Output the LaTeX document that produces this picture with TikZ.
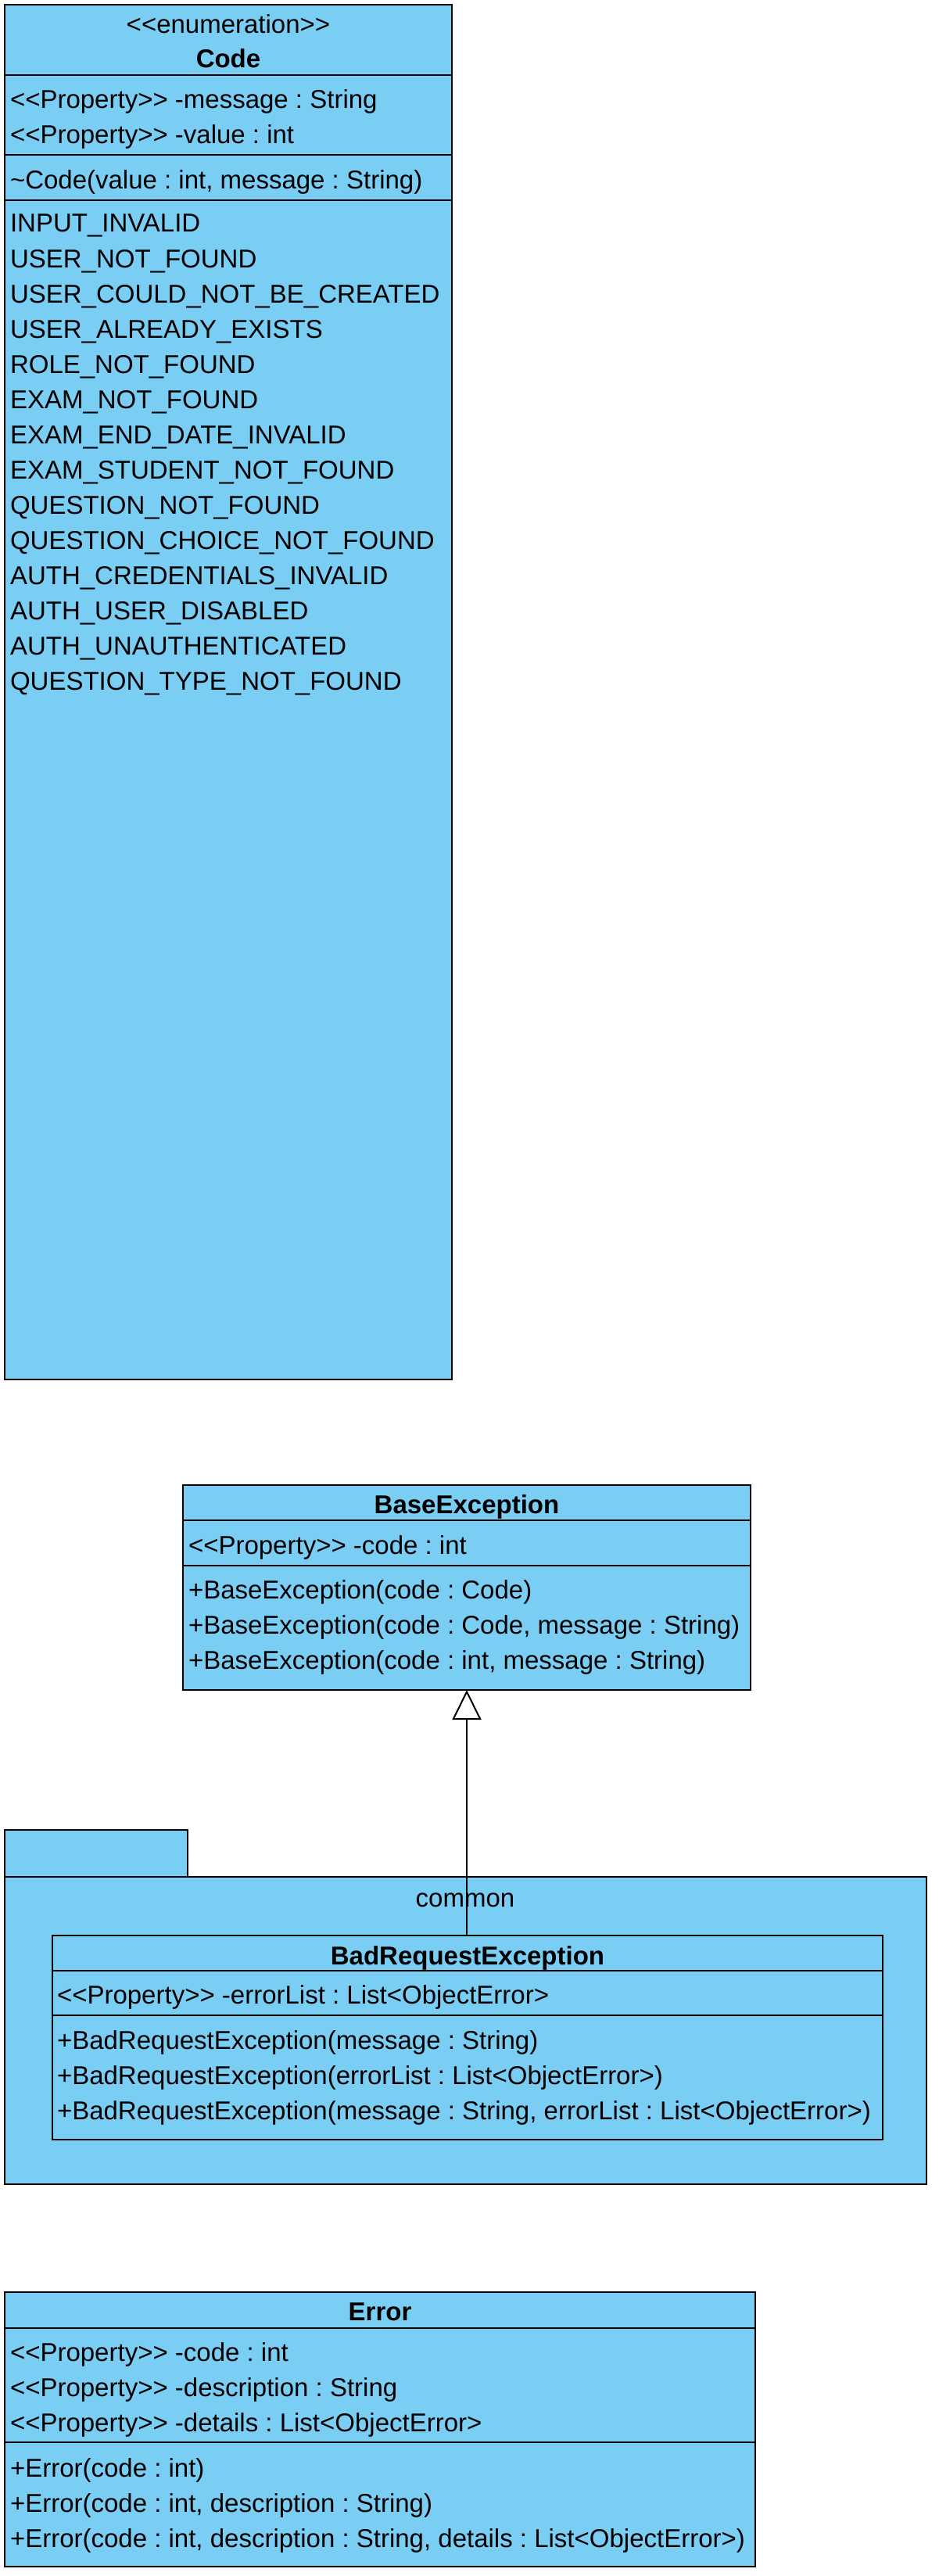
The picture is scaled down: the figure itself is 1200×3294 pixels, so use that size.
\documentclass[tikz,border=0pt]{standalone}
\usepackage{fontspec}
\setmainfont{Liberation Sans}[Ligatures=TeXOff]
\usetikzlibrary{arrows.meta}
\definecolor{umlblue}{RGB}{122,206,244}
\frenchspacing
\begin{document}
\begin{tikzpicture}[x=1pt,y=-1pt,
  every node/.style={font=\fontsize{33}{40}\selectfont\frenchspacing, inner sep=0pt, outer sep=0pt},
  box/.style={draw=black, fill=umlblue, line width=2.6pt, anchor=north west},
  sep/.style={draw=black, line width=2.6pt},
  txt/.style={anchor=base west},
  ttl/.style={anchor=base, font=\fontsize{33}{40}\selectfont\bfseries},
  stereo/.style={anchor=base},
  conn/.style={draw=black, line width=2pt}
]
\useasboundingbox (0,0) rectangle (1200,3294);

% ---------- Code enumeration ----------
\node[box, minimum width=572pt, minimum height=1758pt] (code) at (6,6) {};
\draw[sep] (6,96) -- (578,96);
\draw[sep] (6,198) -- (578,198);
\draw[sep] (6,256) -- (578,256);
\node[stereo] (codest) at (292,43) {<{}<enumeration>{}>};
\node[ttl] (codet) at (292,87) {Code};
\node[txt] (codea1) at (13,139) {<{}<Property>{}> -message : String};
\node[txt] (codea2) at (13,184) {<{}<Property>{}> -value : int};
\node[txt] (codem1) at (13,242) {\textasciitilde Code(value : int, message : String)};
\node[txt] (lit1) at (13,297) {INPUT\_INVALID};
\node[txt] (lit2) at (13,342) {USER\_NOT\_FOUND};
\node[txt] (lit3) at (13,387) {USER\_COULD\_NOT\_BE\_CREATED};
\node[txt] (lit4) at (13,432) {USER\_ALREADY\_EXISTS};
\node[txt] (lit5) at (13,477) {ROLE\_NOT\_FOUND};
\node[txt] (lit6) at (13,522) {EXAM\_NOT\_FOUND};
\node[txt] (lit7) at (13,567) {EXAM\_END\_DATE\_INVALID};
\node[txt] (lit8) at (13,612) {EXAM\_STUDENT\_NOT\_FOUND};
\node[txt] (lit9) at (13,657) {QUESTION\_NOT\_FOUND};
\node[txt] (lit10) at (13,702) {QUESTION\_CHOICE\_NOT\_FOUND};
\node[txt] (lit11) at (13,747) {AUTH\_CREDENTIALS\_INVALID};
\node[txt] (lit12) at (13,792) {AUTH\_USER\_DISABLED};
\node[txt] (lit13) at (13,837) {AUTH\_UNAUTHENTICATED};
\node[txt] (lit14) at (13,882) {QUESTION\_TYPE\_NOT\_FOUND};

% ---------- BaseException ----------
\node[box, minimum width=726pt, minimum height=262pt] (base) at (234,1899) {};
\draw[sep] (234,1944) -- (960,1944);
\draw[sep] (234,2002) -- (960,2002);
\node[ttl] (baset) at (597,1935) {BaseException};
\node[txt] (basea1) at (241,1987) {<{}<Property>{}> -code : int};
\node[txt] (basem1) at (241,2044) {+BaseException(code : Code)};
\node[txt] (basem2) at (241,2089) {+BaseException(code : Code, message : String)};
\node[txt] (basem3) at (241,2134) {+BaseException(code : int, message : String)};

% ---------- package common ----------
\node[box, minimum width=234pt, minimum height=60pt] (pkgtab) at (6,2340) {};
\node[box, minimum width=1179pt, minimum height=393pt] (pkg) at (6,2400) {};
\node[stereo] (pkgname) at (595,2438) {common};

% ---------- BadRequestException ----------
\node[box, minimum width=1062pt, minimum height=261pt] (bre) at (67,2475) {};
\draw[sep] (67,2520) -- (1129,2520);
\draw[sep] (67,2577) -- (1129,2577);
\node[ttl] (bret) at (598,2512) {BadRequestException};
\node[txt] (brea1) at (73,2562) {<{}<Property>{}> -errorList : List<ObjectError>};
\node[txt] (brem1) at (73,2620) {+BadRequestException(message : String)};
\node[txt] (brem2) at (73,2665) {+BadRequestException(errorList : List<ObjectError>)};
\node[txt] (brem3) at (73,2710) {+BadRequestException(message : String, errorList : List<ObjectError>)};

% ---------- generalization ----------
\draw[conn, -{Triangle[open, length=38pt, width=37pt, fill=white]}] (bre.north -| base.south) -- (base.south);

% ---------- Error ----------
\node[box, minimum width=960pt, minimum height=351pt] (err) at (6,2931) {};
\draw[sep] (6,2977) -- (966,2977);
\draw[sep] (6,3123) -- (966,3123);
\node[ttl] (errt) at (486,2967) {Error};
\node[txt] (erra1) at (13,3019) {<{}<Property>{}> -code : int};
\node[txt] (erra2) at (13,3064) {<{}<Property>{}> -description : String};
\node[txt] (erra3) at (13,3109) {<{}<Property>{}> -details : List<ObjectError>};
\node[txt] (errm1) at (13,3167) {+Error(code : int)};
\node[txt] (errm2) at (13,3212) {+Error(code : int, description : String)};
\node[txt] (errm3) at (13,3257) {+Error(code : int, description : String, details : List<ObjectError>)};
\end{tikzpicture}
\end{document}
